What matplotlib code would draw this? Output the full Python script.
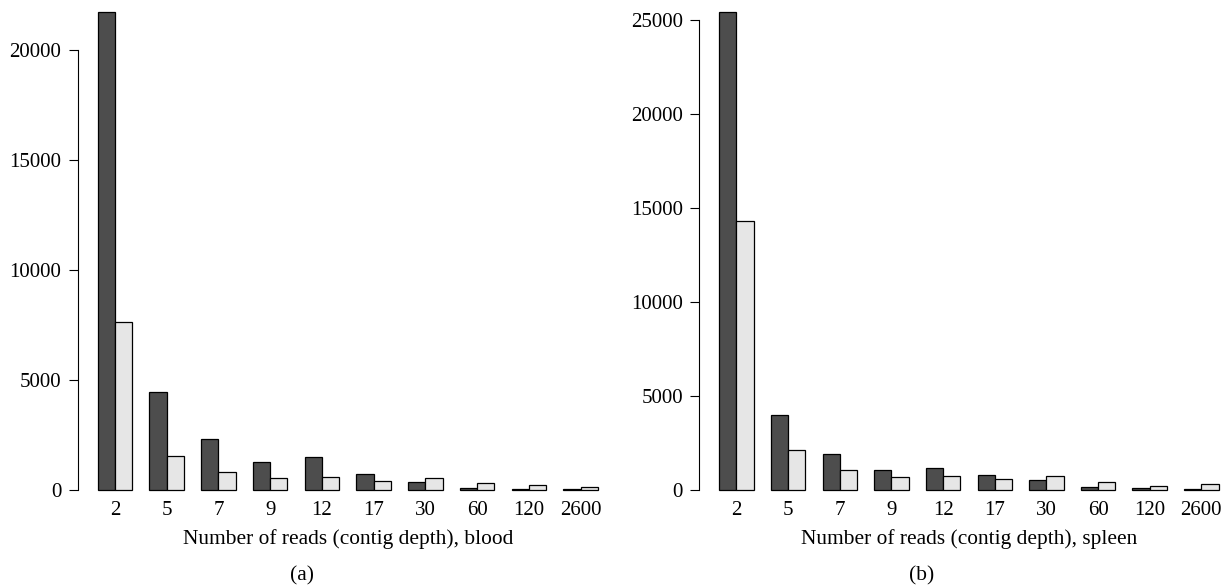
import numpy as np
import matplotlib
matplotlib.use("Agg")
from matplotlib import pyplot as plt

plt.rcParams['font.family'] = ['Liberation Serif', 'DejaVu Serif']

# данные
depth = ['2', '5', '7', '9', '12', '17', '30', '60', '120', '2600']
blood_dark = [21730, 4450, 2290, 1270, 1470, 727, 350, 64, 30, 15]
blood_light = [7620, 1520, 805, 518, 591, 382, 532, 318, 214, 123]
spleen_dark = [25420, 3950, 1915, 1064, 1138, 798, 532, 144, 74, 30]
spleen_light = [14290, 2130, 1032, 676, 729, 569, 713, 426, 181, 287]

W, H = 1231, 587
fig = plt.figure(figsize=(W / 100, H / 100), dpi=100)

n = len(depth)
xl = np.arange(n) * 3 + 1.5   # тёмные столбцы
xr = np.arange(n) * 3 + 2.5   # светлые столбцы
xc = np.arange(n) * 3 + 2.0   # подписи


def panel(x0px, x1px, y0px, pxper1000, dark, light, ymax_axis, ticks, xlabel):
    # x0px..x1px - границы области графика, y0px - пиксель нуля
    left = x0px / W
    width = (x1px - x0px) / W
    bottom = (H - y0px) / H
    height = y0px / H
    ax = fig.add_axes([left, bottom, width, height])
    ax.bar(xl, dark, width=1, color='#4d4d4d', edgecolor='black', linewidth=0.9, clip_on=False)
    ax.bar(xr, light, width=1, color='#e6e6e6', edgecolor='black', linewidth=0.9, clip_on=False)
    ax.set_xlim(1 - 29 * 0.04, 30 + 29 * 0.04)
    ax.set_ylim(0, y0px / pxper1000 * 1000)
    for s in ['top', 'right', 'bottom']:
        ax.spines[s].set_visible(False)
    ax.spines['left'].set_bounds(0, ymax_axis)
    ax.spines['left'].set_linewidth(0.8)
    ax.set_yticks(ticks)
    ax.set_yticklabels([str(t) for t in ticks])
    ax.tick_params(axis='y', length=6.8, width=0.8, pad=5, labelsize=15)
    ax.set_xticks(xc)
    ax.set_xticklabels(depth)
    ax.tick_params(axis='x', length=0, pad=8, labelsize=15)
    ax.set_xlabel(xlabel, fontsize=15.4, labelpad=6.5)
    return ax


panel(77.7, 618.0, 489.7, 22.0, blood_dark, blood_light, 20000,
      [0, 5000, 10000, 15000, 20000], 'Number of reads (contig depth), blood')
panel(699.3, 1238.5, 489.7, 18.8, spleen_dark, spleen_light, 25000,
      [0, 5000, 10000, 15000, 20000, 25000], 'Number of reads (contig depth), spleen')

fig.text(302 / W, 1 - 575.5 / H, '(a)', ha='center', va='center', fontsize=15.4)
fig.text(921.7 / W, 1 - 575.5 / H, '(b)', ha='center', va='center', fontsize=15.4)

plt.savefig('out.png', dpi=100)
